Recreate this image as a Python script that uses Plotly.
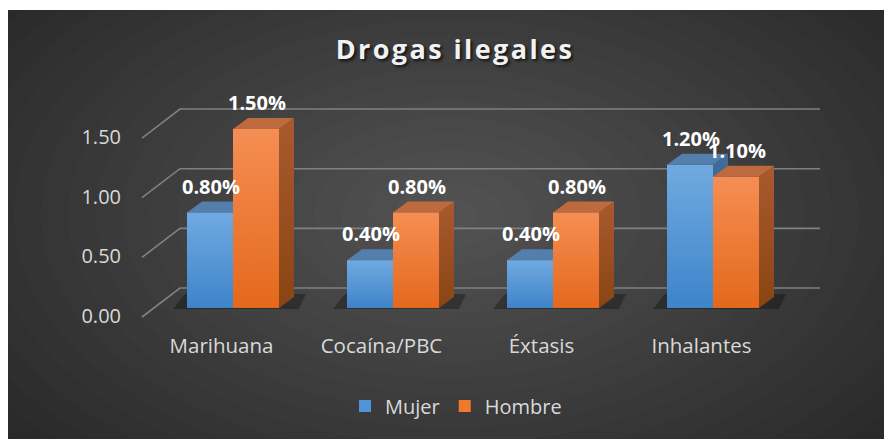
import plotly.graph_objects as go

# ---------------- data ----------------
categories = ["Marihuana", "Cocaína/PBC", "Éxtasis", "Inhalantes"]
series_names = ["Mujer", "Hombre"]
mujer = [0.80, 0.40, 0.40, 1.20]
hombre = [1.50, 0.80, 0.80, 1.10]
y_ticks = [0.0, 0.5, 1.0, 1.5]
y_tick_labels = ["0.00", "0.50", "1.00", "1.50"]
title_text = "Drogas ilegales"

# ---------------- geometry (screen pixels -> data units) ----------------
W, H = 892, 439
OFF = 8                     # page body margin (figure starts at screen px 8,8)
GX0, GSTEP = 233.0, 160.0   # screen x of first group centre, pixels per category
BASE, UNIT = 308.0, 119.3   # screen y of front baseline, pixels per 1.0 value


def xu(px):
    return (px - GX0) / GSTEP


def dxu(px):
    return px / GSTEP


def yu(py):
    return (BASE - py) / UNIT


def dyu(py):
    return py / UNIT


def xp(px):  # screen px -> paper
    return (px - OFF) / W


def yp(py):
    return 1 - (py - OFF) / H


BW = dxu(46)       # bar front width
DX = dxu(15)       # depth offset x
DY = dyu(11)       # depth offset y
GRID_DY = dyu(20)  # back wall offset
FONT = "Open Sans"

colors = {
    "Mujer": dict(front_top="rgb(112,170,224)", front_bot="rgb(62,132,202)",
                  top="rgb(84,126,172)", side_top="rgb(66,108,155)", side_bot="rgb(48,88,135)",
                  solid="rgb(78,148,214)"),
    "Hombre": dict(front_top="rgb(245,142,84)", front_bot="rgb(228,104,28)",
                   top="rgb(188,106,62)", side_top="rgb(168,90,46)", side_bot="rgb(138,68,20)",
                   solid="rgb(240,122,44)"),
}

fig = go.Figure()

# ---------------- background (shapes, below traces) ----------------
shapes = [dict(type="rect", xref="paper", yref="paper", layer="below",
               x0=0, x1=1, y0=0, y1=1,
               fillcolor="rgb(38,38,38)", line=dict(width=0))]
N = 22
CX, CY, RX, RY = 450, 215, 600, 360
for k in range(N):
    f = 1 - k / N
    rx, ry = RX * f, RY * f
    shapes.append(dict(type="circle", xref="paper", yref="paper", layer="below",
                       x0=xp(CX - rx), x1=xp(CX + rx),
                       y0=yp(CY + ry), y1=yp(CY - ry),
                       fillcolor="rgba(255,255,255,0.0110)", line=dict(width=0)))
# thin white strip at the very top
shapes.append(dict(type="rect", xref="paper", yref="paper", layer="below",
                   x0=-0.01, x1=1.01, y0=yp(10), y1=1.01, fillcolor="white", line=dict(width=0)))

# ---------------- gridlines (walls) ----------------
gx, gy = [], []
for v in y_ticks:
    gx += [xu(142), xu(180), xu(820), None]
    gy += [v - dyu(9), v + GRID_DY, v + GRID_DY, None]
fig.add_trace(go.Scatter(x=gx, y=gy, mode="lines", line=dict(color="rgb(128,128,128)", width=1.6),
                         hoverinfo="skip", showlegend=False))

# ---------------- bar shadows ----------------
for i in range(len(categories)):
    xl = i - BW
    xr = i + BW
    fig.add_trace(go.Scatter(
        x=[xl - dxu(14), xr + dxu(20), xr + DX + dxu(12), xl - dxu(2), xl - dxu(14)],
        y=[-dyu(1), -dyu(1), DY + dyu(3), DY + dyu(3), -dyu(1)],
        mode="lines", fill="toself", fillcolor="rgba(0,0,0,0.30)", line=dict(width=0),
        hoverinfo="skip", showlegend=False))

# ---------------- bars ----------------
series = [("Mujer", mujer, -1), ("Hombre", hombre, 0)]
for name, vals, side in series:
    c = colors[name]
    xs = [i + side * BW + BW / 2 for i in range(len(categories))]
    fig.add_trace(go.Bar(x=xs, y=vals, width=BW, name=name, marker=dict(color=c["solid"], line=dict(width=0)),
                         hovertemplate="%{y:.2f}%<extra>" + name + "</extra>"))

for name, vals, side in series:
    c = colors[name]
    for i, v in enumerate(vals):
        xl = i + side * BW
        xr = xl + BW
        # front face with vertical gradient
        fig.add_trace(go.Scatter(
            x=[xl, xr, xr, xl, xl], y=[0, 0, v, v, 0], mode="lines", fill="toself",
            fillgradient=dict(type="vertical", colorscale=[[0, c["front_bot"]], [1, c["front_top"]]]),
            line=dict(width=0), hoverinfo="skip", showlegend=False))
        # right side face
        fig.add_trace(go.Scatter(
            x=[xr, xr + DX, xr + DX, xr, xr], y=[0, DY, v + DY, v, 0], mode="lines", fill="toself",
            fillgradient=dict(type="vertical", colorscale=[[0, c["side_bot"]], [1, c["side_top"]]]),
            line=dict(width=0), hoverinfo="skip", showlegend=False))
        # top face
        fig.add_trace(go.Scatter(
            x=[xl, xr, xr + DX, xl + DX, xl], y=[v, v, v + DY, v + DY, v], mode="lines", fill="toself",
            fillcolor=c["top"], line=dict(width=0), hoverinfo="skip", showlegend=False))

# ---------------- data labels ----------------
for name, vals, side in series:
    fig.add_trace(go.Scatter(
        x=[i + side * BW + BW / 2 + dxu(1) for i in range(len(vals))],
        y=[v + dyu(24) for v in vals],
        text=[f"{v:.2f}%" for v in vals], mode="text",
        textfont=dict(family=FONT, size=20, color="white", weight="bold"),
        hoverinfo="skip", showlegend=False))

# ---------------- axis labels (text) ----------------
fig.add_trace(go.Scatter(
    x=[xu(121)] * len(y_ticks), y=[v - dyu(10) for v in y_ticks], text=y_tick_labels,
    mode="text", textposition="middle left",
    textfont=dict(family=FONT, size=20, color="rgb(217,217,217)"),
    hoverinfo="skip", showlegend=False))
fig.add_trace(go.Scatter(
    x=[i - dxu(11.5) for i in range(len(categories))], y=[yu(348)] * len(categories), text=categories,
    mode="text", textposition="middle center",
    textfont=dict(family=FONT, size=20.5, color="rgb(217,217,217)"),
    hoverinfo="skip", showlegend=False))

fig.update_layout(
    width=W, height=H, autosize=False,
    margin=dict(l=0, r=0, t=0, b=0, pad=0),
    paper_bgcolor="white", plot_bgcolor="rgba(0,0,0,0)",
    barmode="overlay",
    shapes=shapes,
    xaxis=dict(range=[xu(OFF), xu(OFF + W)], visible=False, fixedrange=True),
    yaxis=dict(range=[yu(OFF + H), yu(OFF)], visible=False, fixedrange=True),
    title=dict(text='<span style="letter-spacing:2.4px">' + title_text + '</span>',
               x=xp(455), xanchor="center", y=yp(50), yanchor="middle",
               font=dict(family=FONT, size=27, color="rgb(242,242,242)", weight="bold",
                         shadow="2px 2px 3px rgba(0,0,0,0.7)")),
    legend=dict(orientation="h", x=xp(456), xanchor="center", y=yp(406), yanchor="middle",
                bgcolor="rgba(0,0,0,0)", font=dict(family=FONT, size=20, color="rgb(217,217,217)"),
                itemwidth=30, traceorder="normal"),
    showlegend=True,
)

fig.write_html("out.html")
